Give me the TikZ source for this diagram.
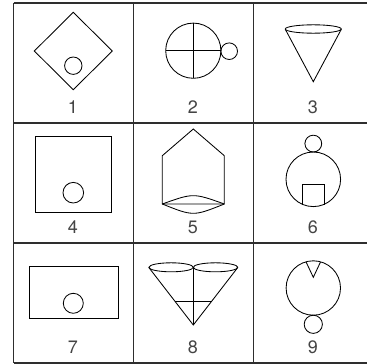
\documentclass[tikz,border=0pt]{standalone}
\usepackage{fontspec}
\setmainfont{TeX Gyre Heros}
\usetikzlibrary{positioning}
\definecolor{ruleink}{HTML}{2E2E2E}
\definecolor{numink}{HTML}{444444}
\tikzset{cellrule/.style={draw=ruleink,line width=1.3pt},
  figline/.style={draw=black,line width=.85pt},
  numlabel/.style={font=\fontsize{18}{21}\selectfont,text=numink,inner sep=0pt}}

\begin{document}
\begin{tikzpicture}[x=1pt,y=-1pt]
\useasboundingbox (0,0) rectangle (367,364);
% table rules
\foreach \y in {3,123,243,363}
  \draw[cellrule] (13.5,\y) -- (367,\y);
\foreach \x in {13.5,133.5,253.5}
  \draw[cellrule] (\x,3) -- (\x,363);
% numbers
\foreach \cx/\cy/\n in {73/107/1,193/107/2,313/107/3,73/227/4,193/227/5,313/227/6,73/347/7,193/347/8,313/347/9}
  \node[numlabel] (lab\n) at (\cx,\cy) {\n};
% 1: diamond with circle
\draw[figline] (73.3,12.3) -- (112.3,51) -- (73.3,89.7) -- (34.3,51) -- cycle;
\draw[figline] (73.3,65.7) circle (8.7);
% 2: crossed circle with ring
\draw[figline] (193.3,50.7) circle (27.6);
\draw[figline] (165.7,50.7) -- (220.9,50.7) (193.3,23.1) -- (193.3,78.3);
\draw[figline] (229.2,51.2) circle (8.3);
% 3: cone
\draw[figline] (313.3,29) ellipse (28 and 4.2);
\draw[figline] (285.3,29.3) -- (313.3,81.7) -- (341.3,29.3);
% 4: square with circle
\draw[figline] (35.7,136) rectangle (111,212.3);
\draw[figline] (73.3,192.7) circle (10.3);
% 5: house with lens base
\draw[figline] (162.3,204) -- (162.3,155.7) -- (193.3,129) -- (224.3,155.7) -- (224.3,204) -- cycle;
\draw[figline] (162.3,204) .. controls (193.3,192.9) .. (224.3,204);
\draw[figline] (162.3,204) .. controls (193.3,216.4) .. (224.3,204);
% 6: circle with head and box
\draw[figline] (313.3,179.3) circle (27.3);
\draw[figline] (313.3,143.6) circle (8.4);
\draw[figline] (302.3,204.7) -- (302.3,184.6) -- (324.5,184.6) -- (324.5,204.6);
% 7: oblong with circle
\draw[figline] (29,266.7) rectangle (118.3,318.3);
\draw[figline] (73.3,303.3) circle (10);
% 8: double cone
\draw[figline] (171.1,267.3) ellipse (22.2 and 4.5);
\draw[figline] (215.5,267.3) ellipse (22.2 and 4.5);
\draw[figline] (148.9,267.6) -- (193.3,325) -- (237.7,267.6);
\draw[figline] (193.3,267.3) -- (193.3,325);
\draw[figline] (175.2,301) -- (211.4,301);
% 9: notched circle with ring
\draw[figline] (313.3,288) circle (27.2);
\draw[figline] (306.1,262) -- (313.3,277.3) -- (320.5,262);
\draw[figline] (313.3,324.3) circle (9.1);
\end{tikzpicture}
\end{document}
